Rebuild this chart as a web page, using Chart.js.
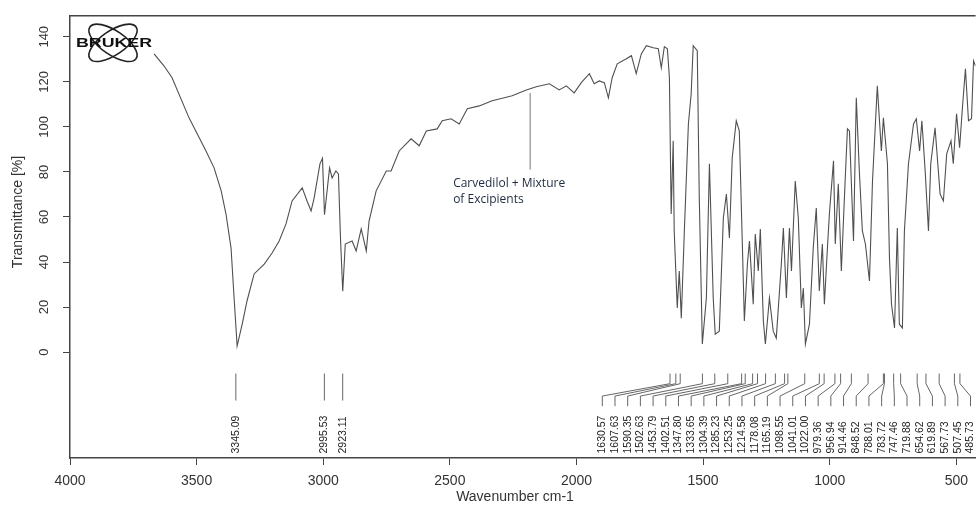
<!DOCTYPE html>
<html>
<head>
<meta charset="utf-8">
<script src="https://cdn.jsdelivr.net/npm/chart.js@4.4.1/dist/chart.umd.min.js"></script>
<style>
html, body {margin: 0; padding: 0; background: #fff;}
</style>
</head>
<body>
<canvas id="chart" width="976" height="506"></canvas>
<script>
// spectrum (wavenumber cm-1, transmittance %)
const wavenumbers = [
    3668, 3629, 3597, 3530, 3463, 3431, 3403, 3384, 3364, 3352, 3340, 3320, 3301, 3273, 3233, 3202,
    3174, 3147, 3123, 3083, 3064, 3048, 3036, 3013, 3003, 2995, 2975, 2965, 2950, 2940, 2932, 2923,
    2913, 2886, 2870, 2850, 2830, 2819, 2791, 2751, 2732, 2700, 2653, 2621, 2593, 2550, 2530, 2495,
    2463, 2431, 2384, 2333, 2285, 2254, 2198, 2159, 2107, 2068, 2040, 2009, 1981, 1949, 1930, 1910,
    1890, 1874, 1859, 1839, 1803, 1783, 1764, 1744, 1724, 1697, 1677, 1665, 1653, 1641, 1633, 1626,
    1618, 1614, 1602, 1594, 1586, 1574, 1558, 1547, 1539, 1523, 1515, 1503, 1487, 1475, 1460, 1452,
    1436, 1420, 1408, 1396, 1385, 1369, 1357, 1345, 1337, 1325, 1317, 1302, 1294, 1282, 1274, 1262,
    1254, 1238, 1223, 1211, 1191, 1183, 1171, 1159, 1151, 1136, 1124, 1112, 1104, 1096, 1080, 1065,
    1053, 1041, 1029, 1021, 1009, 1001, 985, 978, 966, 954, 942, 930, 922, 906, 895, 883,
    871, 859, 843, 831, 812, 796, 788, 772, 764, 756, 744, 733, 725, 713, 705, 689,
    669, 658, 645, 636, 623, 610, 601, 584, 564, 551, 538, 521, 512, 499, 487, 476,
    464, 452, 440, 432, 424
];
const transmittance = [
    132.4, 127.1, 121.8, 104.0, 89.3, 81.8, 71.6, 61.3, 46.2, 24.0, 2.7, 12.4, 22.7, 34.7, 39.1, 44.0,
    49.3, 56.9, 67.1, 72.9, 67.1, 62.7, 68.4, 83.6, 86.0, 61.0, 81.8, 77.3, 80.4, 79.1, 51.0, 27.0,
    48.0, 49.3, 44.9, 54.7, 44.9, 58.2, 71.6, 80.4, 80.4, 89.3, 94.7, 91.6, 98.2, 99.1, 102.7, 103.6,
    101.3, 108.0, 109.3, 111.6, 112.9, 113.8, 116.4, 117.8, 119.1, 116.4, 118.2, 115.1, 119.6, 123.6, 119.1, 120.4,
    119.6, 112.9, 121.8, 128.0, 130.2, 131.6, 123.6, 132.4, 136.0, 135.1, 134.7, 126.2, 135.6, 134.7, 121.8, 61.3,
    93.8, 53.8, 19.6, 36.0, 15.1, 53.8, 101.3, 114.7, 136.0, 133.8, 68.4, 3.6, 24.0, 83.6, 24.0, 8.0,
    9.3, 59.6, 70.2, 50.7, 86.2, 102.7, 98.2, 48.0, 13.8, 39.1, 49.3, 21.3, 52.4, 36.0, 54.7, 13.8,
    3.6, 24.0, 9.3, 6.2, 39.1, 55.1, 24.0, 55.1, 36.0, 76.0, 59.6, 19.6, 28.4, 3.6, 12.4, 46.2,
    64.0, 27.1, 48.0, 21.3, 46.2, 61.8, 84.9, 48.0, 74.7, 36.0, 68.4, 99.1, 98.2, 49.3, 112.9, 80.4,
    53.8, 48.0, 31.6, 76.0, 118.2, 89.3, 104.0, 83.6, 41.8, 21.3, 10.7, 55.1, 12.4, 10.7, 53.8, 83.6,
    101.3, 103.6, 89.3, 102.7, 80.4, 53.8, 83.6, 99.6, 70.2, 67.1, 88.0, 93.8, 83.6, 105.8, 90.7, 108.4,
    125.8, 102.7, 103.6, 129.3, 127.0
];

const xTicks = [4000, 3500, 3000, 2500, 2000, 1500, 1000, 500];
const yTicks = [0, 20, 40, 60, 80, 100, 120, 140];

// peak picks printed under the spectrum
const peaksWide = [3345.09, 2995.53, 2923.11];
const peaksFinger = [
    1630.57, 1607.63, 1590.35, 1502.63, 1453.79, 1402.51, 1347.80, 1333.65, 1304.39, 1285.23,
    1253.25, 1214.58, 1178.08, 1165.19, 1098.55, 1041.01, 1022.00, 979.36, 956.94, 914.46,
    848.52, 788.01, 783.72, 747.46, 719.88, 654.62, 619.89, 567.73, 507.45, 485.73
];

const sampleName = ['Carvedilol + Mixture', 'of Excipients'];
const sampleMark = 2183;

const ink = '#454545';
const tickFont = {family: '"Liberation Sans", Arial, sans-serif', size: 14};

function vText(ctx, str, px, py) {
    ctx.save();
    ctx.translate(px, py);
    ctx.rotate(-Math.PI / 2);
    ctx.fillText(str, 0, 0);
    ctx.restore();
}

const decor = {
    id: 'decor',
    afterDraw(chart) {
        const {ctx, chartArea: a} = chart;
        const x = chart.scales.x, y = chart.scales.y;
        ctx.save();

        // top frame line
        ctx.strokeStyle = ink;
        ctx.lineWidth = 1.5;
        ctx.beginPath();
        ctx.moveTo(a.left, a.top);
        ctx.lineTo(a.right, a.top);
        ctx.stroke();

        // logo
        const cx = a.left + 43, cy = a.top + 27;
        ctx.strokeStyle = '#222';
        ctx.lineWidth = 1.6;
        for (const r of [0.6, -0.6]) {
            ctx.beginPath();
            ctx.ellipse(cx, cy, 28, 12, r, 0, Math.PI * 2);
            ctx.stroke();
        }
        ctx.font = 'bold 13px "Liberation Sans", Arial, sans-serif';
        ctx.textAlign = 'center';
        ctx.textBaseline = 'middle';
        const bw = ctx.measureText('BRUKER').width;
        ctx.save();
        ctx.translate(cx + 1, cy + 1);
        ctx.scale(76 / bw, 1);
        ctx.fillStyle = '#111';
        ctx.fillText('BRUKER', 0, 0);
        ctx.restore();

        // sample annotation
        ctx.strokeStyle = '#777';
        ctx.lineWidth = 1;
        ctx.beginPath();
        ctx.moveTo(x.getPixelForValue(sampleMark), y.getPixelForValue(115));
        ctx.lineTo(x.getPixelForValue(sampleMark), y.getPixelForValue(81));
        ctx.stroke();
        ctx.fillStyle = '#1f2a40';
        ctx.font = '12px "Open Sans", sans-serif';
        ctx.textAlign = 'left';
        ctx.textBaseline = 'alphabetic';
        const tx = x.getPixelForValue(2487);
        ctx.fillText(sampleName[0], tx, y.getPixelForValue(73.5));
        ctx.fillText(sampleName[1], tx, y.getPixelForValue(66));

        // peak picks
        ctx.strokeStyle = '#666';
        ctx.lineWidth = 1;
        ctx.fillStyle = '#222';
        ctx.font = '10.5px "Liberation Sans", Arial, sans-serif';
        ctx.textAlign = 'left';
        ctx.textBaseline = 'middle';
        const textBase = y.getPixelForValue(-45);
        for (const p of peaksWide) {
            const px = x.getPixelForValue(p);
            ctx.beginPath();
            ctx.moveTo(px, y.getPixelForValue(-9.5));
            ctx.lineTo(px, y.getPixelForValue(-21.5));
            ctx.stroke();
            vText(ctx, p.toFixed(2), px, textBase);
        }
        const n = peaksFinger.length;
        const w0 = 1898, w1 = 444;
        peaksFinger.forEach((p, i) => {
            const px = x.getPixelForValue(p);
            const lx = x.getPixelForValue(w0 - i * (w0 - w1) / (n - 1));
            ctx.beginPath();
            ctx.moveTo(px, y.getPixelForValue(-9.5));
            ctx.lineTo(px, y.getPixelForValue(-14));
            ctx.lineTo(lx, y.getPixelForValue(-19.5));
            ctx.lineTo(lx, y.getPixelForValue(-24));
            ctx.stroke();
            vText(ctx, p.toFixed(2), lx, textBase);
        });

        // axis titles
        ctx.fillStyle = '#333';
        ctx.font = '14px "Liberation Sans", Arial, sans-serif';
        ctx.textAlign = 'center';
        ctx.textBaseline = 'middle';
        ctx.fillText('Wavenumber cm-1', 515, 497);
        vText(ctx, 'Transmittance [%]', 18, 212);

        ctx.restore();
    }
};

const config = {
    type: 'line',
    data: {
        datasets: [{
            data: wavenumbers.map((w, i) => ({x: w, y: transmittance[i]})),
            borderColor: '#505050',
            borderWidth: 1.1,
            pointRadius: 0,
            tension: 0,
            fill: false
        }]
    },
    options: {
        responsive: false,
        animation: false,
        devicePixelRatio: 1,
        layout: {padding: {top: 15, right: 0, left: 0, bottom: 0}},
        plugins: {
            legend: {display: false},
            tooltip: {enabled: false}
        },
        scales: {
            x: {
                type: 'linear',
                reverse: true,
                min: 424,
                max: 4000,
                afterBuildTicks: s => { s.ticks = xTicks.map(v => ({value: v})); },
                afterFit: s => { s.height = 48; },
                ticks: {color: '#333', font: tickFont, padding: 8, maxRotation: 0, autoSkip: false,
                        callback: v => String(v)},
                grid: {drawOnChartArea: false, drawTicks: true, tickLength: 7, color: ink},
                border: {color: ink, width: 1.5}
            },
            y: {
                type: 'linear',
                min: -47,
                max: 149.3,
                afterBuildTicks: s => { s.ticks = yTicks.map(v => ({value: v})); },
                afterFit: s => { s.width = 70; },
                ticks: {color: '#333', font: {family: tickFont.family, size: 13}, padding: 8,
                        minRotation: 90, maxRotation: 90, crossAlign: 'center',
                        callback: v => String(v)},
                grid: {drawOnChartArea: false, drawTicks: true, tickLength: 7, color: ink},
                border: {color: ink, width: 1.5}
            }
        }
    },
    plugins: [decor]
};

const spectrum = new Chart(document.getElementById('chart'), config);
</script>
</body>
</html>
